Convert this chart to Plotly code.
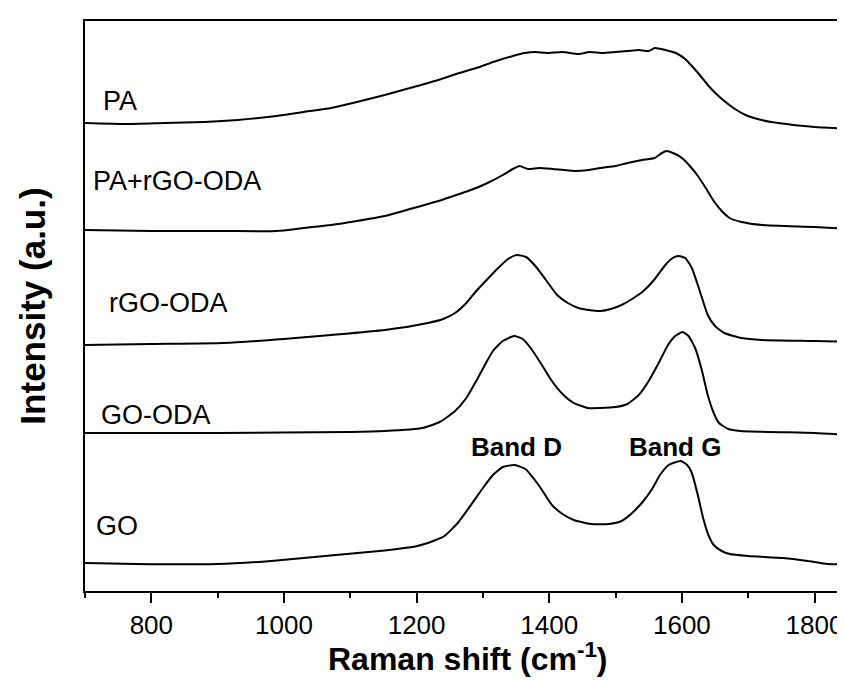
import plotly.graph_objects as go

# Raman shift (cm-1) and stacked intensities (a.u., offset per curve)
pa_x = [700, 760, 820, 880, 930, 989, 1030, 1071, 1110, 1152, 1190, 1233, 1260, 1290, 1320, 1345,
        1363, 1380, 1396, 1420, 1444, 1461, 1480, 1500, 1518, 1535, 1550, 1559, 1575, 1591, 1605,
        1615, 1627, 1639, 1652, 1664, 1680, 1696, 1720, 1745, 1800, 1855]
pa_y = [468, 467, 468, 469, 471, 475, 479, 483, 489, 496, 503, 511, 517, 523, 530, 535,
        538, 539, 538, 539, 537, 539, 538, 539, 540, 541, 540, 543, 541, 538, 532,
        525, 516, 506, 497, 490, 482, 476, 471, 468, 464, 462]

parg_x = [700, 800, 909, 989, 1030, 1071, 1110, 1152, 1190, 1233, 1260, 1290, 1310, 1330, 1345,
          1355, 1368, 1385, 1405, 1437, 1460, 1477, 1500, 1518, 1540, 1559, 1570, 1577, 1590,
          1600, 1612, 1623, 1636, 1648, 1660, 1672, 1690, 1721, 1800, 1855]
parg_y = [361, 360, 360, 360, 363, 366, 370, 375, 382, 390, 396, 403, 409, 416, 422,
          425, 422, 423, 422, 420, 421, 423, 425, 428, 431, 433, 438, 440, 437,
          433, 425, 416, 403, 390, 380, 373, 369, 366, 364, 362]

rgo_x = [700, 800, 909, 1000, 1071, 1152, 1217, 1240, 1258, 1275, 1290, 1307, 1323, 1338, 1351,
         1365, 1379, 1395, 1412, 1428, 1444, 1460, 1477, 1493, 1509, 1525, 1542, 1558, 1575,
         1586, 1595, 1605, 1615, 1627, 1639, 1650, 1664, 1690, 1721, 1800, 1855]
rgo_y = [246, 247, 248, 252, 256, 261, 268, 272, 278, 288, 300, 312, 323, 332, 336,
         334, 325, 311, 296, 288, 283, 281, 280, 282, 286, 292, 300, 311, 326,
         333, 335, 333, 323, 300, 276, 265, 258, 253, 251, 250, 249]

goo_x = [700, 900, 1100, 1152, 1209, 1235, 1258, 1275, 1290, 1303, 1315, 1330, 1347, 1360, 1372,
         1388, 1404, 1420, 1437, 1458, 1477, 1500, 1518, 1535, 1550, 1565, 1579, 1590, 1601,
         1610, 1620, 1630, 1639, 1648, 1656, 1670, 1688, 1800, 1855]
goo_y = [158, 158, 159, 160, 163, 169, 180, 193, 210, 226, 240, 250, 255, 252, 243,
         227, 210, 197, 188, 183, 183, 184, 187, 196, 210, 228, 246, 255, 259,
         255, 243, 221, 196, 178, 168, 162, 160, 158, 156]

go_x = [700, 777, 899, 981, 1062, 1144, 1201, 1225, 1242, 1262, 1282, 1300, 1315, 1330, 1348,
        1364, 1385, 1404, 1420, 1437, 1463, 1490, 1509, 1525, 1542, 1555, 1567, 1580, 1598,
        1608, 1615, 1624, 1632, 1640, 1648, 1660, 1672, 1700, 1753, 1790, 1820, 1855]
go_y = [28, 27, 27, 30, 35, 40, 45, 50, 55, 68, 86, 103, 116, 124, 126,
        122, 105, 86, 77, 71, 67, 67, 70, 78, 90, 102, 116, 126, 130,
        126, 118, 96, 73, 56, 46, 40, 37, 35, 33, 30, 27, 27]

series_names = ["PA", "PA+rGO-ODA", "rGO-ODA", "GO-ODA", "GO"]
series_x = [pa_x, parg_x, rgo_x, goo_x, go_x]
series_y = [pa_y, parg_y, rgo_y, goo_y, go_y]
label_x = [724, 709, 733, 721, 713]
label_y = [490, 410, 288, 176, 65]

band_names = ["Band D", "Band G"]
band_x = [1351, 1589]
band_y = [144, 144]

x_ticks = [800, 1000, 1200, 1400, 1600, 1800]

FONT = "Liberation Sans, Arial, sans-serif"

fig = go.Figure()
for name, xs, ys in zip(series_names, series_x, series_y):
    fig.add_trace(go.Scatter(x=xs, y=ys, mode="lines", name=name,
                             line=dict(color="black", width=2, shape="spline", smoothing=0.5),
                             showlegend=False))

annotations = []
for name, lx, ly in zip(series_names, label_x, label_y):
    annotations.append(dict(x=lx, y=ly, text=name, showarrow=False, xanchor="left", yanchor="middle",
                            font=dict(family=FONT, size=27, color="black")))
for name, bx, by in zip(band_names, band_x, band_y):
    annotations.append(dict(x=bx, y=by, text=f"<b>{name}</b>", showarrow=False, xanchor="center",
                            yanchor="middle", font=dict(family=FONT, size=26, color="black")))
# x-axis title placed as a paper annotation so it stays inside the page
annotations.append(dict(xref="paper", yref="paper", x=0.5, y=-0.152, xanchor="center", yanchor="bottom",
                        text="<b>Raman shift (cm<sup>-1</sup>)</b>", showarrow=False, borderpad=0,
                        font=dict(family=FONT, size=32, color="black")))

fig.update_layout(
    width=845, height=680,
    margin=dict(l=77, r=2, t=13, b=97),
    paper_bgcolor="white", plot_bgcolor="white",
    annotations=annotations,
    font=dict(family=FONT, color="black"),
)
fig.update_xaxes(
    range=[700, 1855], showgrid=False, zeroline=False,
    showline=True, linecolor="black", linewidth=2, mirror=True,
    tickmode="array", tickvals=x_ticks, ticktext=[str(v) for v in x_ticks],
    ticks="outside", ticklen=10, tickwidth=2, tickcolor="black",
    ticklabelstandoff=0,
    tickfont=dict(family=FONT, size=26, color="black"),
    minor=dict(dtick=100, tick0=700, ticks="outside", ticklen=5, tickwidth=2, tickcolor="black"),
    automargin=False,
)
fig.update_yaxes(
    range=[0, 570], showgrid=False, zeroline=False,
    showline=True, linecolor="black", linewidth=2, mirror=True,
    showticklabels=False, ticks="",
    title=dict(text="<b>Intensity (a.u.)</b>", font=dict(family=FONT, size=35, color="black"),
               standoff=27),
    automargin=False,
)

fig.write_html("out.html")
